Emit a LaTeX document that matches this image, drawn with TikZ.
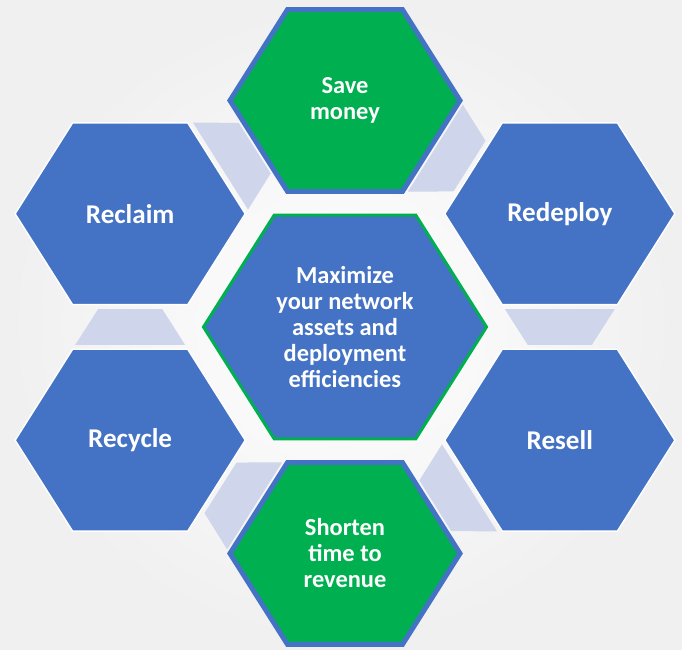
\documentclass[tikz,border=0pt]{standalone}
\usepackage{fontspec}
\setmainfont{Carlito}
\usetikzlibrary{calc}
\definecolor{hexblue}{HTML}{4472C4}
\definecolor{hexgreen}{HTML}{00B050}
\definecolor{linklav}{HTML}{CFD5EA}
\begin{document}
\begin{tikzpicture}[x=0.02cm,y=0.01826cm]
  \tikzset{hexpath/.style={insert path={+(0:#1) -- +(60:#1) -- +(120:#1) -- +(180:#1) -- +(240:#1) -- +(300:#1) -- cycle}},
    blue hex/.style={fill=hexblue,draw=white,line width=0.8pt},
    green hex/.style={fill=hexgreen,draw=hexblue,line width=2.8pt},
    core hex/.style={fill=hexblue,draw=hexgreen,line width=1.7pt},
    link/.style={fill=linklav},
    hex label/.style={text=white,align=center,font=\bfseries\fontsize{13.9}{14.8}\selectfont},
    big label/.style={hex label,font=\bfseries\fontsize{15.4}{17}\selectfont}}
  \shade[inner color=white,outer color=gray!12] (-6.9cm,-6.46cm) rectangle (6.74cm,6.54cm);
  \coordinate (core hex) at (0,0);
  \foreach \name/\ang in {save/90,redeploy/30,resell/-30,shorten/-90,recycle/-150,reclaim/150}
    \coordinate (\name\space hex) at (\ang:248);
  \foreach \a/\b in {save/redeploy,redeploy/resell,resell/shorten,shorten/recycle,recycle/reclaim,reclaim/save}
    \fill[link] ($0.7074*(\a\space hex)+0.5486*(\b\space hex)$) -- ($0.4514*(\a\space hex)+0.2926*(\b\space hex)$)
      -- ($0.3461*(\a\space hex)+0.5049*(\b\space hex)$) -- ($0.4951*(\a\space hex)+0.6539*(\b\space hex)$) -- cycle;
  \foreach \name in {redeploy,resell,recycle,reclaim}
    \draw[blue hex] (\name\space hex) [hexpath=115];
  \foreach \name in {save,shorten}
    \draw[green hex] (\name\space hex) [hexpath=115];
  \draw[core hex] (core hex) [hexpath=141.5];
  \node[hex label] (core) at (core hex) {Maximize\\your network\\assets and\\deployment\\efficiencies};
  \node[hex label] (save) at (save hex) {Save\\money};
  \node[big label] (redeploy) at (redeploy hex) {Redeploy};
  \node[big label] (resell) at (resell hex) {Resell};
  \node[hex label] (shorten) at (shorten hex) {Shorten\\time to\\revenue};
  \node[big label] (recycle) at (recycle hex) {Recycle};
  \node[big label] (reclaim) at (reclaim hex) {Reclaim};
\end{tikzpicture}
\end{document}
